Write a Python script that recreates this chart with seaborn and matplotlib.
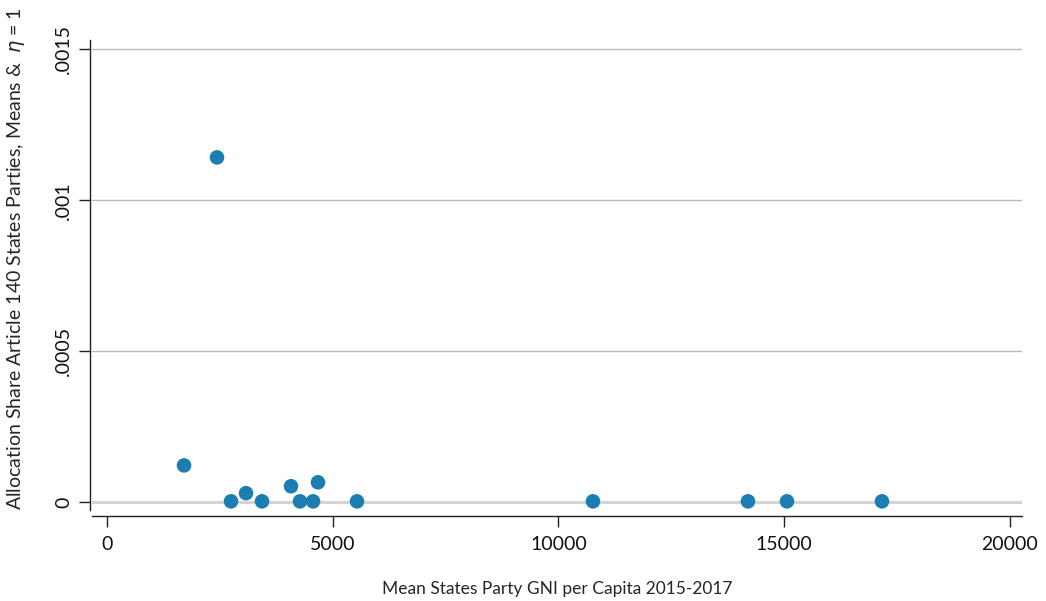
import matplotlib
import matplotlib.pyplot as plt
import pandas as pd
import seaborn as sns

matplotlib.use("Agg")

# mean GNI per capita 2015-2017 and allocation share (eta = 1)
gni = [1705, 2436, 2746, 3079, 3433, 4075, 4275, 4563, 4673, 5537,
       10764, 14197, 15061, 17165]
share = [0.000122, 0.001142, 0.000003, 0.000030, 0.000003, 0.000053,
         0.000003, 0.000003, 0.000066, 0.000003, 0.000003, 0.000003,
         0.000003, 0.000003]

x_ticks = [0, 5000, 10000, 15000, 20000]
y_ticks = [0, 0.0005, 0.001, 0.0015]
y_tick_labels = ["0", ".0005", ".001", ".0015"]

df = pd.DataFrame({"gni": gni, "share": share})

sns.set_style("white")
plt.rcParams["font.family"] = ["Lato", "DejaVu Sans"]

fig = plt.figure(figsize=(10.46, 6.01), dpi=100)
ax = fig.add_axes([0.088, 0.151, 0.889, 0.782])

for y in y_ticks:
    if y == 0:
        ax.axhline(y, color="#d4d4d4", lw=2.2, zorder=0)
    else:
        ax.axhline(y, color="#b8b8b8", lw=1.0, zorder=0)

sns.scatterplot(data=df, x="gni", y="share", ax=ax, s=110,
                color="#1a7fb0", edgecolor="none", zorder=3)

ax.set_xlim(-332, 20266)
ax.set_ylim(-0.0000265, 0.00153)
ax.set_xticks(x_ticks)
ax.set_xticklabels([str(t) for t in x_ticks])
ax.set_yticks(y_ticks)
ax.set_yticklabels(y_tick_labels)

for side in ["top", "right"]:
    ax.spines[side].set_visible(False)
ax.spines["left"].set_position(("outward", 1.5))
ax.spines["bottom"].set_position(("outward", 4.5))
for side in ["left", "bottom"]:
    ax.spines[side].set_color("#222222")
    ax.spines[side].set_linewidth(1.0)

ax.tick_params(axis="both", which="major", length=8, width=1.0,
               color="#222222", labelsize=14, labelcolor="#111111", pad=6,
               left=True, bottom=True)
ax.tick_params(axis="y", labelrotation=90, pad=5)
for lab in ax.get_yticklabels():
    lab.set_verticalalignment("center")

ax.set_xlabel("Mean States Party GNI per Capita 2015-2017", fontsize=12.5,
              labelpad=20)
ax.set_ylabel(r"Allocation Share Article 140 States Parties, Means &  $\eta$ = 1",
              fontsize=14)
ax.yaxis.set_label_coords(-0.07, 0.535)

fig.savefig("out.png", dpi=100)
